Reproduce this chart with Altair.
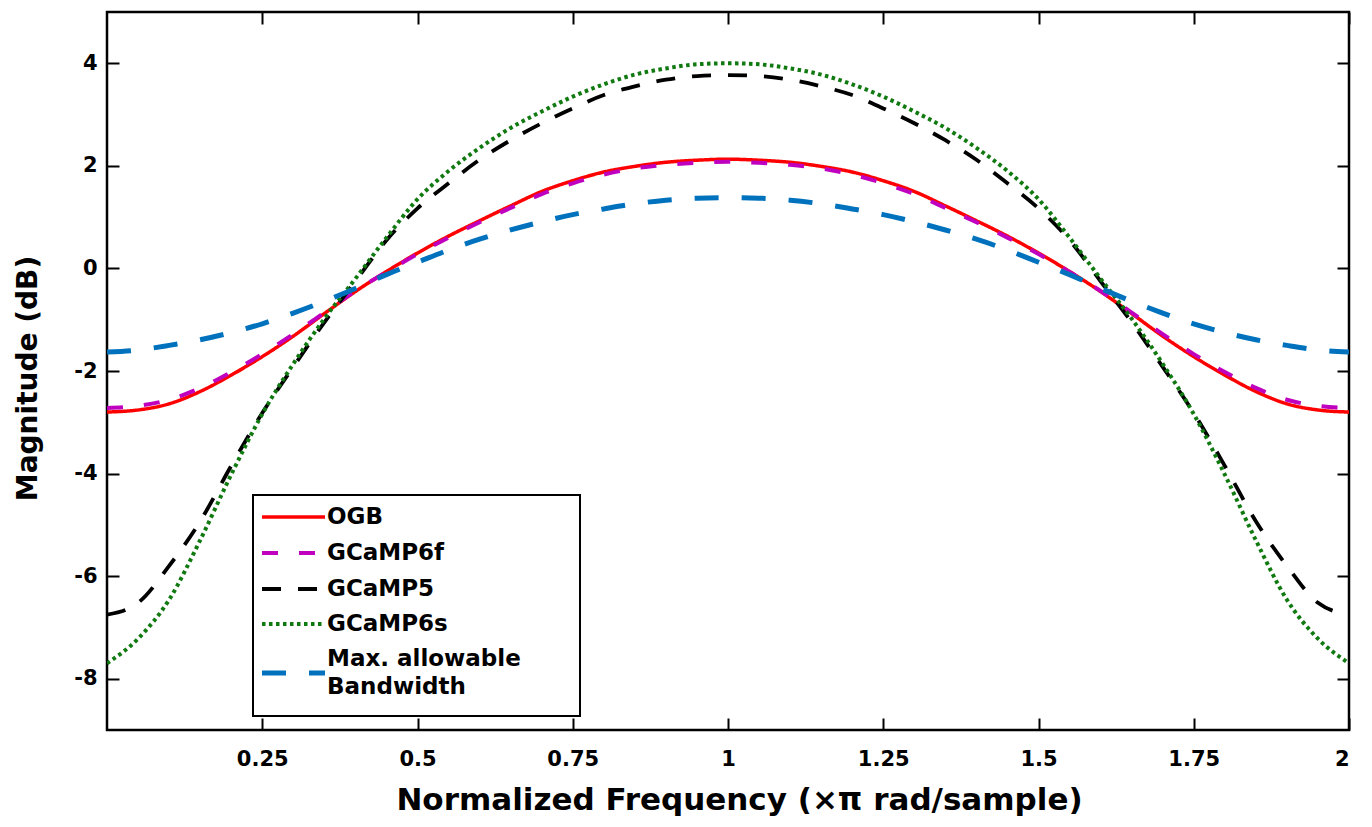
import altair as alt
import pandas as pd

# ---------------- data ----------------
freq = [0.00, 0.05, 0.10, 0.15, 0.20, 0.25, 0.30, 0.35, 0.40, 0.45, 0.50,
        0.55, 0.60, 0.65, 0.70, 0.75, 0.80, 0.85, 0.90, 0.95, 1.00,
        1.05, 1.10, 1.15, 1.20, 1.25, 1.30, 1.35, 1.40, 1.45, 1.50,
        1.55, 1.60, 1.65, 1.70, 1.75, 1.80, 1.85, 1.90, 1.95, 2.00]

ogb = [-2.80, -2.76, -2.64, -2.40, -2.08, -1.72, -1.32, -0.88, -0.45, -0.06, 0.30,
       0.63, 0.93, 1.22, 1.50, 1.71, 1.88, 1.99, 2.07, 2.11, 2.13,
       2.11, 2.07, 1.99, 1.88, 1.71, 1.50, 1.22, 0.93, 0.63, 0.30,
       -0.06, -0.45, -0.88, -1.32, -1.72, -2.08, -2.40, -2.64, -2.76, -2.80]

gcamp6f = [-2.72, -2.68, -2.56, -2.33, -2.02, -1.67, -1.28, -0.86, -0.44, -0.07, 0.28,
           0.60, 0.90, 1.18, 1.45, 1.66, 1.83, 1.95, 2.02, 2.06, 2.08,
           2.06, 2.02, 1.95, 1.83, 1.66, 1.45, 1.18, 0.90, 0.60, 0.28,
           -0.07, -0.44, -0.86, -1.28, -1.67, -2.02, -2.33, -2.56, -2.68, -2.72]

gcamp5 = [-6.75, -6.52, -5.80, -4.93, -3.85, -2.82, -1.92, -1.05, -0.25, 0.55, 1.17,
          1.66, 2.12, 2.50, 2.83, 3.12, 3.38, 3.55, 3.68, 3.75, 3.77,
          3.75, 3.68, 3.55, 3.38, 3.12, 2.83, 2.50, 2.12, 1.66, 1.17,
          0.55, -0.25, -1.05, -1.92, -2.82, -3.85, -4.93, -5.80, -6.52, -6.75]

gcamp6s = [-7.70, -7.22, -6.46, -5.30, -4.02, -2.84, -1.86, -0.98, -0.20, 0.60, 1.35,
           1.90, 2.35, 2.74, 3.06, 3.35, 3.59, 3.78, 3.90, 3.98, 4.00,
           3.98, 3.90, 3.78, 3.59, 3.35, 3.06, 2.74, 2.35, 1.90, 1.35,
           0.60, -0.20, -0.98, -1.86, -2.84, -4.02, -5.30, -6.46, -7.22, -7.70]

maxbw = [-1.63, -1.59, -1.50, -1.39, -1.25, -1.08, -0.87, -0.64, -0.39, -0.12, 0.12,
         0.36, 0.57, 0.75, 0.91, 1.05, 1.16, 1.26, 1.33, 1.37, 1.38,
         1.37, 1.33, 1.26, 1.16, 1.05, 0.91, 0.75, 0.57, 0.36, 0.12,
         -0.12, -0.39, -0.64, -0.87, -1.08, -1.25, -1.39, -1.50, -1.59, -1.63]

series_names = ["OGB", "GCaMP6f", "GCaMP5", "GCaMP6s", "Max. allowable Bandwidth"]
series_values = [ogb, gcamp6f, gcamp5, gcamp6s, maxbw]

x_ticks = [0.25, 0.5, 0.75, 1.0, 1.25, 1.5, 1.75, 2.0]
y_ticks = [-8, -6, -4, -2, 0, 2, 4]

# ---------------- styles ----------------
W, H = 1242, 718
FONT = "DejaVu Sans"
colors = ["#FF0000", "#BF00BF", "#000000", "#107A10", "#0072BD"]
dashes = [[1, 0], [16, 21], [19, 17], [3.5, 3.5], [24, 23]]
widths = [3.5, 4, 3.8, 4, 5]

xs = alt.Scale(domain=[0, 2], nice=False, zero=False)
ys = alt.Scale(domain=[-9, 5], nice=False, zero=False)

label_expr = "'' + datum.value"

main_x = alt.Axis(values=x_ticks, labelExpr=label_expr, tickSize=0, domain=False, grid=False,
                  labelFont=FONT, labelFontWeight="bold", labelFontSize=21, labelColor="black",
                  labelPadding=18, title="Normalized Frequency (×π rad/sample)",
                  titleFont=FONT, titleFontWeight="bold", titleFontSize=31, titleColor="black",
                  titlePadding=16, titleX=632)
main_y = alt.Axis(values=y_ticks, labelExpr=label_expr, tickSize=0, domain=False, grid=False,
                  labelFont=FONT, labelFontWeight="bold", labelFontSize=21, labelColor="black",
                  labelPadding=10, title="Magnitude (dB)",
                  titleFont=FONT, titleFontWeight="bold", titleFontSize=28, titleColor="black",
                  titlePadding=31, titleY=366)

tick_common = dict(labels=False, domain=False, grid=False, tickSize=12, tickWidth=2,
                   tickColor="black", title=None)
x_in_bottom = alt.Axis(values=x_ticks, orient="top", offset=-H, **tick_common)
y_in_left = alt.Axis(values=y_ticks, orient="right", offset=-W, **tick_common)
x_in_top = alt.Axis(values=x_ticks, orient="bottom", offset=-H, **tick_common)
y_in_right = alt.Axis(values=y_ticks, orient="left", offset=-W, **tick_common)

axes_plan = [(main_x, main_y), (x_in_bottom, y_in_left), (x_in_top, y_in_right), (None, None), (None, None)]

layers = []
for name, vals, col, dash, sw, (ax_x, ax_y) in zip(series_names, series_values, colors, dashes,
                                                    widths, axes_plan):
    df = pd.DataFrame({"f": freq, "m": vals, "series": name})
    layers.append(
        alt.Chart(df).mark_line(color=col, strokeDash=dash, strokeWidth=sw,
                                interpolate="monotone", clip=True).encode(
            x=alt.X("f:Q", scale=xs, axis=ax_x),
            y=alt.Y("m:Q", scale=ys, axis=ax_y),
        )
    )

# ---------------- legend box ----------------
leg_df = pd.DataFrame({"k": [0]})
layers.append(
    alt.Chart(leg_df).mark_rect(fill="white", stroke="black", strokeWidth=2).encode(
        x=alt.value(146), x2=alt.value(473), y=alt.value(483), y2=alt.value(704))
)
sym_y = [505, 541, 577, 612, 661]
legend_labels = [["OGB"], ["GCaMP6f"], ["GCaMP5"], ["GCaMP6s"], ["Max. allowable", "Bandwidth"]]
for lab, yy, col, dash, sw in zip(legend_labels, sym_y, colors, dashes, widths):
    layers.append(
        alt.Chart(leg_df).mark_rule(color=col, strokeDash=dash, strokeWidth=sw).encode(
            x=alt.value(155), x2=alt.value(218), y=alt.value(yy))
    )
    ty = yy if len(lab) == 1 else yy - 14
    for i, t in enumerate(lab):
        layers.append(
            alt.Chart(pd.DataFrame({"t": [t]})).mark_text(
                align="left", baseline="middle", font=FONT, fontWeight="bold",
                fontSize=23, color="black").encode(
                x=alt.value(220), y=alt.value(ty + i * 28), text="t:N")
        )

chart = alt.layer(*layers).resolve_scale(x="independent", y="independent").properties(
    width=W, height=H,
    autosize=alt.AutoSizeParams(type="none"),
    padding={"left": 99, "top": 4, "right": 15, "bottom": 90},
    background="white",
).configure_view(stroke="black", strokeWidth=2.5)

chart.save("out.html", embed_options={"renderer": "svg", "actions": False})
